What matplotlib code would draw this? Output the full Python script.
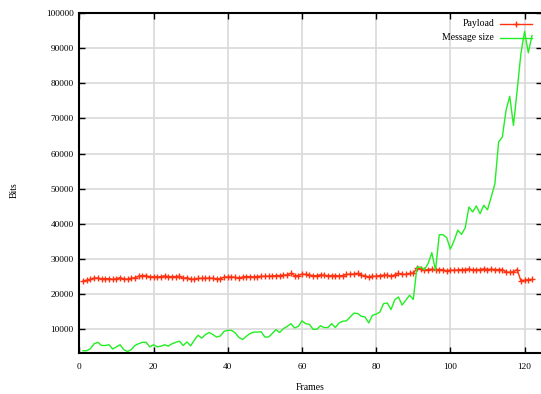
import numpy as np
import matplotlib.pyplot as plt
from matplotlib.lines import Line2D

# Frame numbers
frames = np.arange(1, 123)

# Payload size per frame (bits)
payload = [
    23700, 24000, 24200, 24600, 24600, 24300, 24400, 24400, 24200, 24400,
    24700, 24300, 24300, 24500, 24700, 25100, 25300, 25300, 24900, 25000,
    24900, 25000, 25200, 25000, 25000, 25000, 25100, 24500, 24700, 24300,
    24200, 24500, 24500, 24500, 24600, 24500, 24300, 24400, 24800, 24900,
    24900, 24800, 24500, 24900, 25000, 25000, 24900, 25000, 25100, 25100,
    25100, 25200, 25300, 25300, 25400, 25500, 25900, 25300, 25300, 25700,
    25600, 25500, 25200, 25300, 25500, 25400, 25200, 25300, 25300, 25200,
    25300, 25600, 25700, 25700, 25900, 25400, 25200, 24900, 25100, 25100,
    25300, 25400, 25400, 25100, 25500, 25900, 25700, 25600, 25900, 26000,
    27300, 27100, 26900, 27000, 27100, 27000, 27000, 27000, 26600, 26800,
    26800, 26900, 27000, 27000, 27200, 26900, 27000, 27000, 27200, 27000,
    27100, 27000, 27000, 27000, 26300, 26200, 26400, 27000, 23800, 24000,
    24100, 24200,
]

# Total message size per frame (bits)
message_size = [
    3900, 3900, 4500, 5900, 6300, 5400, 5400, 5600, 4400, 5000,
    5600, 4200, 3700, 4200, 5400, 5900, 6300, 6300, 5000, 5600,
    5000, 5200, 5600, 5200, 5900, 6300, 6600, 5400, 6400, 5300,
    6900, 8300, 7500, 8500, 9100, 8500, 7800, 8100, 9400, 9700,
    9700, 9000, 7700, 7100, 8000, 8800, 9200, 9200, 9300, 7800,
    7800, 8800, 9900, 9100, 10200, 10800, 11600, 10400, 10800, 12400,
    11600, 11400, 10000, 10000, 11000, 10500, 10500, 11600, 10500, 11800,
    12300, 12400, 13500, 14600, 14500, 13700, 13500, 11800, 14000, 14300,
    14900, 17300, 17500, 15600, 18400, 19200, 16900, 18300, 19700, 18500,
    27700, 27700, 27000, 28700, 31800, 26800, 36900, 36900, 36100, 32800,
    35200, 38200, 37000, 38900, 44800, 43400, 45100, 42900, 45300, 44000,
    47600, 51400, 63300, 64700, 72300, 76300, 68000, 78000, 88400, 94800,
    88700, 93600,
]

xticks = [0, 20, 40, 60, 80, 100, 120]
yticks = [10000, 20000, 30000, 40000, 50000, 60000, 70000, 80000, 90000, 100000]

red = '#ff3311'
green = '#22ee22'

plt.rcParams['font.family'] = ['Liberation Serif', 'DejaVu Serif']

fig = plt.figure(figsize=(5.41, 3.94), dpi=100)
# right border sits just past the image edge, as in the reference
ax = fig.add_axes([0.1466, 0.1033, 0.8553, 0.8637])

ax.plot(frames, payload, color=red, lw=1.0, marker='+', ms=4.5, mew=1.0)
ax.plot(frames, message_size, color=green, lw=1.0)

ax.set_xlim(0, 124.7)
ax.set_ylim(3170, 100000)
ax.set_xticks(xticks)
ax.set_yticks(yticks)
ax.tick_params(direction='in', length=4, width=1, labelsize=6.7,
               top=True, right=True, colors='black')
ax.tick_params(axis='x', pad=7)
ax.tick_params(axis='y', pad=4)
ax.grid(True, color='#d9d9d9', lw=1.2)
ax.set_axisbelow(True)
for s in ax.spines.values():
    s.set_linewidth(1.5)

# Key in the gnuplot style: label right-aligned, sample to the right
ax.text(0.897, 0.968, 'Payload', transform=ax.transAxes, ha='right', va='center', fontsize=7)
ax.text(0.897, 0.927, 'Message size', transform=ax.transAxes, ha='right', va='center', fontsize=7)
ax.add_line(Line2D([0.910, 0.978], [0.968, 0.968], transform=ax.transAxes, color=red, lw=1.0))
ax.add_line(Line2D([0.944], [0.968], transform=ax.transAxes, color=red, marker='+', ms=4.5, mew=1.0))
ax.add_line(Line2D([0.910, 0.978], [0.927, 0.927], transform=ax.transAxes, color=green, lw=1.0))

fig.text(0.026, 0.518, 'Bits', rotation=90, ha='center', va='center', fontsize=7)
fig.text(0.573, 0.016, 'Frames', ha='center', va='center', fontsize=7)

fig.savefig('out.png', dpi=100)
